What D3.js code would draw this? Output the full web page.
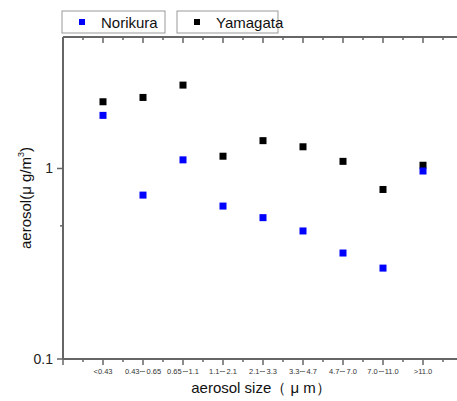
<!DOCTYPE html>
<html>
<head>
<meta charset="utf-8">
<style>
  body { margin: 0; background: #fff; }
  svg { display: block; font-family: "Liberation Sans", Arial, sans-serif; }
</style>
</head>
<body>
<script src="https://cdnjs.cloudflare.com/ajax/libs/d3/7.8.5/d3.min.js"></script>
<script>
var sizes = ["<0.43", "0.43\u223C0.65", "0.65\u223C1.1", "1.1\u223C2.1", "2.1\u223C3.3",
             "3.3\u223C4.7", "4.7\u223C7.0", "7.0\u223C11.0", ">11.0"];
var norikura = [1.90, 0.725, 1.11, 0.635, 0.552, 0.47, 0.36, 0.30, 0.97];
var yamagata = [2.24, 2.36, 2.74, 1.16, 1.40, 1.30, 1.09, 0.776, 1.04];
var yTicks = [0.1, 1];
var yMinor = [0.5];

var w = 457, h = 401;
var padLeft = 63, padTop = 37, padBottom = 359;

var svg = d3.select("body").append("svg")
    .attr("width", w)
    .attr("height", h);

// category i sits at position i+1, axis runs 0..10 (cut by the window)
var x = d3.scaleLinear().domain([0, 10]).range([padLeft, padLeft + 400]);
var y = d3.scaleLog().domain([0.1, 4.9]).range([padBottom, padTop]);

var axisColor = "#666";

function hAxis(yPos) {
    var g = svg.append("g").attr("transform", "translate(0," + yPos + ")");
    g.append("line").attr("x1", padLeft).attr("x2", w).attr("stroke", axisColor).attr("stroke-width", 2);
    g.selectAll("line.maj").data(d3.range(0, 11)).enter().append("line")
        .attr("class", "maj")
        .attr("x1", function(d) { return x(d); }).attr("x2", function(d) { return x(d); })
        .attr("y1", 0).attr("y2", 6).attr("stroke", axisColor).attr("stroke-width", 1.5);
    g.selectAll("line.min").data(d3.range(0.5, 10, 1)).enter().append("line")
        .attr("class", "min")
        .attr("x1", function(d) { return x(d); }).attr("x2", function(d) { return x(d); })
        .attr("y1", 0).attr("y2", 3).attr("stroke", axisColor).attr("stroke-width", 1.5);
    return g;
}

// bottom axis
var xb = hAxis(padBottom);
xb.selectAll("text").data(sizes).enter().append("text")
    .attr("x", function(d, i) { return x(i + 1); })
    .attr("y", 15)
    .attr("text-anchor", "middle")
    .attr("font-size", "7.5px")
    .attr("fill", "#333")
    .text(function(d) { return d; });

// top axis
hAxis(padTop);

// left axis
var yl = svg.append("g");
yl.append("line").attr("x1", padLeft).attr("x2", padLeft).attr("y1", padTop).attr("y2", padBottom)
    .attr("stroke", axisColor).attr("stroke-width", 2);
yl.selectAll("line.maj").data(yTicks).enter().append("line")
    .attr("class", "maj")
    .attr("x1", padLeft - 6).attr("x2", padLeft)
    .attr("y1", function(d) { return y(d); }).attr("y2", function(d) { return y(d); })
    .attr("stroke", axisColor).attr("stroke-width", 1.5);
yl.selectAll("line.min").data(yMinor).enter().append("line")
    .attr("class", "min")
    .attr("x1", padLeft - 3).attr("x2", padLeft)
    .attr("y1", function(d) { return y(d); }).attr("y2", function(d) { return y(d); })
    .attr("stroke", axisColor).attr("stroke-width", 1.5);
yl.selectAll("text").data(yTicks).enter().append("text")
    .attr("x", padLeft - 10)
    .attr("y", function(d) { return y(d) + 5; })
    .attr("text-anchor", "end")
    .attr("font-size", "14px")
    .attr("fill", "#222")
    .text(function(d) { return d; });

// axis titles
svg.append("text")
    .attr("x", 261).attr("y", 393)
    .attr("text-anchor", "middle")
    .attr("font-size", "15px")
    .attr("fill", "#111")
    .text("aerosol size\uFF08 \u03BC m\uFF09");

var yt = svg.append("text")
    .attr("transform", "translate(31,198) rotate(-90)")
    .attr("text-anchor", "middle")
    .attr("font-size", "15px")
    .attr("fill", "#111");
yt.append("tspan").text("aerosol(\u03BC g/m");
yt.append("tspan").attr("font-size", "9px").attr("dy", -7).text("3");
yt.append("tspan").attr("dy", 7).text(")");

// points
var ms = 7;
function drawSeries(data, color) {
    svg.append("g").selectAll("rect").data(data).enter().append("rect")
        .attr("x", function(d, i) { return x(i + 1) - ms / 2; })
        .attr("y", function(d) { return y(d) - ms / 2; })
        .attr("width", ms).attr("height", ms)
        .attr("fill", color);
}
drawSeries(yamagata, "#000");
drawSeries(norikura, "#0000ff");

// legend
var legend = [
    { name: "Norikura", color: "#0000ff", x: 62, w: 103 },
    { name: "Yamagata", color: "#000", x: 177, w: 101 }
];
var lg = svg.selectAll("g.leg").data(legend).enter().append("g")
    .attr("class", "leg")
    .attr("transform", function(d) { return "translate(" + d.x + ",11)"; });
lg.append("rect")
    .attr("width", function(d) { return d.w; }).attr("height", 22)
    .attr("fill", "#fff").attr("stroke", "#999").attr("stroke-width", 1);
lg.append("rect")
    .attr("x", 17).attr("y", 8).attr("width", 6).attr("height", 6)
    .attr("fill", function(d) { return d.color; });
lg.append("text")
    .attr("x", 39).attr("y", 16.5)
    .attr("font-size", "15px")
    .attr("fill", "#111")
    .text(function(d) { return d.name; });
</script>
</body>
</html>
